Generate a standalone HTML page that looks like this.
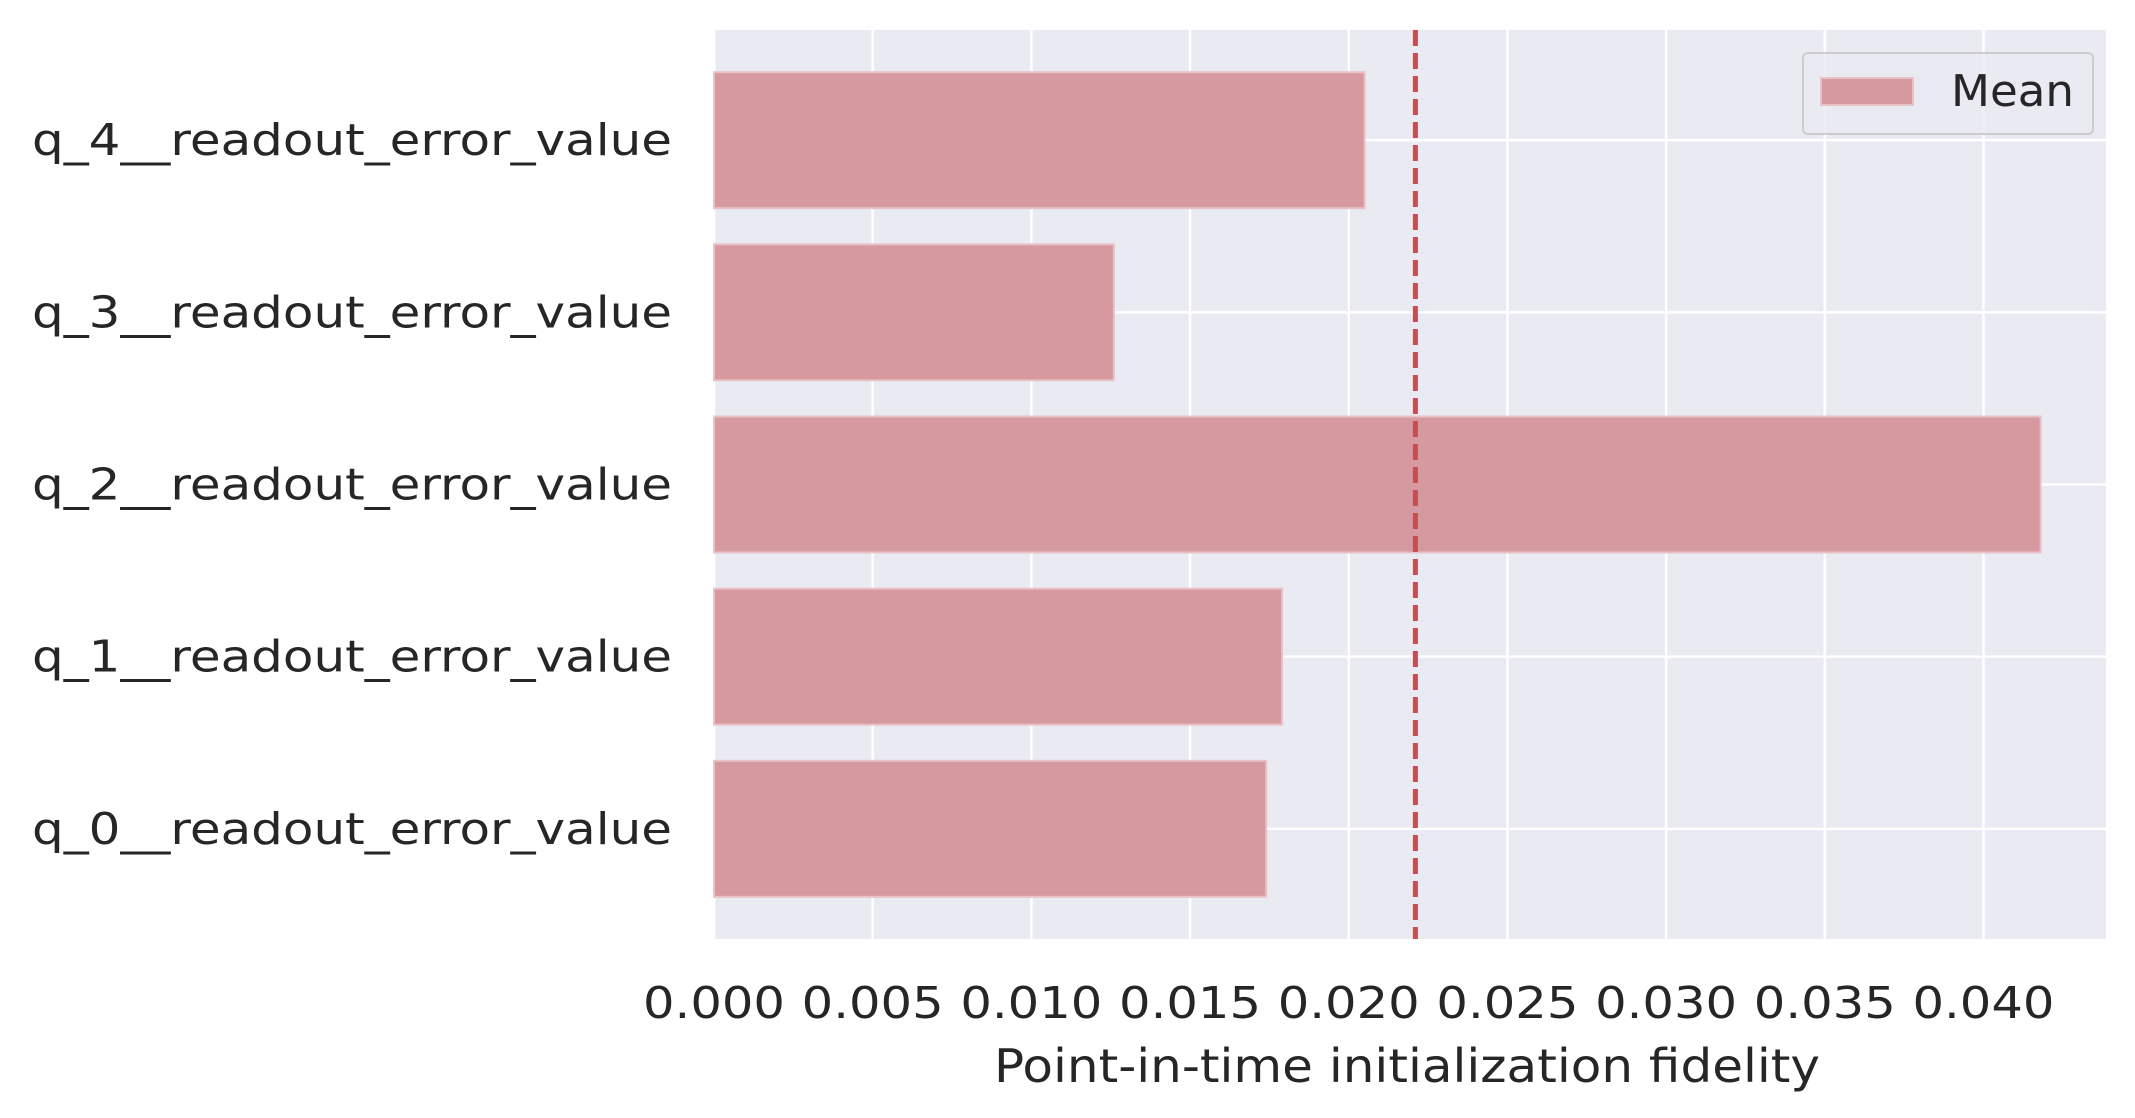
<!DOCTYPE html>
<html><head><meta charset="utf-8"><style>
html,body{margin:0;padding:0;background:#fff;}
svg{display:block;font-family:"DejaVu Sans","Liberation Sans",sans-serif;}
</style></head><body>
<svg id="chart" width="2135" height="1118" viewBox="0 0 2135 1118" xmlns="http://www.w3.org/2000/svg"></svg>
<script>
const categories = ["q_0__readout_error_value","q_1__readout_error_value","q_2__readout_error_value","q_3__readout_error_value","q_4__readout_error_value"];
const values = [0.0174, 0.0179, 0.0418, 0.0126, 0.0205];
const meanValue = 0.0221;
const xTicks = [0,0.005,0.010,0.015,0.020,0.025,0.030,0.035,0.040];
const xTickLabels = ["0.000","0.005","0.010","0.015","0.020","0.025","0.030","0.035","0.040"];

const NS="http://www.w3.org/2000/svg";
const svg=document.getElementById('chart');
const L=714, R=2106, T=30, B=939, xMax=0.04386;
const x=v=>L+(v/xMax)*(R-L);
const step=(B-T)/5.28;
const yc=i=>B-step*(i+0.64);
function mk(tag,attrs,parent){const e=document.createElementNS(NS,tag);for(const k in attrs)e.setAttribute(k,attrs[k]);(parent||svg).appendChild(e);return e;}

const bg=mk('rect',{x:L,y:T,width:R-L,height:B-T,fill:'#eaeaf2'});



xTicks.forEach((t,i)=>{
  const g=mk('line',{x1:x(t),x2:x(t),y1:T,y2:B,stroke:'#fff','stroke-width':2.5});
  
  
  const tx=mk('text',{x:x(t),y:1018,'text-anchor':'middle','font-size':44,fill:'#262626',textLength:142,lengthAdjust:'spacingAndGlyphs'});
  tx.textContent=xTickLabels[i];
  
  
});
categories.forEach((c,i)=>{
  const g=mk('line',{x1:L,x2:R,y1:yc(i),y2:yc(i),stroke:'#fff','stroke-width':2.5});
  
  
});
categories.forEach((c,i)=>{
  const h=step*0.79;
  const b=mk('rect',{x:x(0),y:yc(i)-h/2,width:x(values[i])-x(0),height:h,fill:'#d6999f',stroke:'#e8c2c6','stroke-width':2});
  
  
  const t=mk('text',{x:672,y:yc(i)+15,'text-anchor':'end','font-size':44,fill:'#262626',textLength:640,lengthAdjust:'spacingAndGlyphs'});
  t.textContent=c;
  
  
});
const ml=mk('line',{x1:x(meanValue),x2:x(meanValue),y1:T,y2:B,stroke:'#c44e52','stroke-width':5,'stroke-dasharray':'16,7'});



const xt=mk('text',{x:1407,y:1082,'text-anchor':'middle','font-size':46,fill:'#262626',textLength:826,lengthAdjust:'spacingAndGlyphs'});
xt.textContent='Point-in-time initialization fidelity';



const lg=mk('g',{});


mk('rect',{x:1803,y:53,width:290,height:81,rx:5,fill:'#eaeaf2','fill-opacity':0.8,stroke:'#cccccc','stroke-width':2},lg);
const lp=mk('rect',{x:1821,y:78,width:92,height:27,fill:'#d6999f',stroke:'#e8c2c6','stroke-width':2},lg);


const lt=mk('text',{x:1951,y:106,'font-size':44,fill:'#262626',textLength:123,lengthAdjust:'spacingAndGlyphs'},lg);
lt.textContent='Mean';


</script>
</body></html>
